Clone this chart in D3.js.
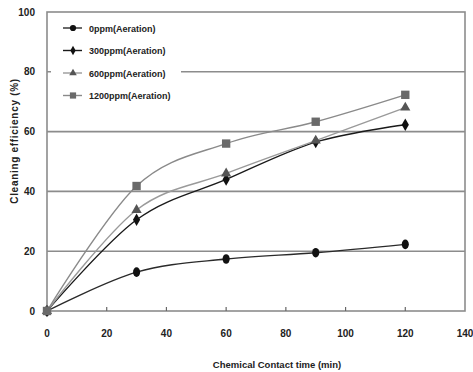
<!DOCTYPE html>
<html>
<head>
<meta charset="utf-8">
<script src="https://cdn.jsdelivr.net/npm/d3@7"></script>
<style>
  body { margin: 0; background: #fff; }
  svg { display: block; }
  text { font-family: "Liberation Sans Narrow", "Arial Narrow", "Liberation Sans", sans-serif; font-weight: bold; fill: #222; }
</style>
</head>
<body>
<svg width="473" height="372"></svg>
<script>
const times = [0, 30, 60, 90, 120];
const seriesNames = ["0ppm(Aeration)", "300ppm(Aeration)", "600ppm(Aeration)", "1200ppm(Aeration)"];
const ppm0 = [0, 13, 17.4, 19.5, 22.3];
const ppm300 = [0, 30.5, 44, 56.5, 62.3];
const ppm600 = [0, 33.8, 46, 57, 68];
const ppm1200 = [0, 41.8, 56, 63.3, 72.3];
const xTicks = [0, 20, 40, 60, 80, 100, 120, 140];
const yTicks = [0, 20, 40, 60, 80, 100];

const svg = d3.select("svg"),
  margin = { top: 12, right: 8, bottom: 61, left: 47 },
  width = +svg.attr("width") - margin.left - margin.right,
  height = +svg.attr("height") - margin.top - margin.bottom,
  x = d3.scaleLinear().domain([0, 140]).range([0, width]),
  y = d3.scaleLinear().domain([0, 100]).range([height, 0]),
  g = svg.append("g").attr("transform", `translate(${margin.left},${margin.top})`);

const series = [
  { name: seriesNames[0], values: ppm0, line: "#2a2a2a", fill: "#111", shape: "circle" },
  { name: seriesNames[1], values: ppm300, line: "#1a1a1a", fill: "#111", shape: "diamond" },
  { name: seriesNames[2], values: ppm600, line: "#9a9a9a", fill: "#555", shape: "triangle" },
  { name: seriesNames[3], values: ppm1200, line: "#8a8a8a", fill: "#6a6a6a", shape: "square" },
];

// grid lines
g.selectAll(".grid")
  .data(yTicks.filter((d) => d > 0 && d < 100))
  .enter()
  .append("line")
  .attr("x1", 0)
  .attr("x2", width)
  .attr("y1", (d) => y(d))
  .attr("y2", (d) => y(d))
  .attr("stroke", "#8c8c8c")
  .attr("stroke-width", 1.6);

// frame
g.append("rect")
  .attr("width", width)
  .attr("height", height)
  .attr("fill", "none")
  .attr("stroke", "#8c8c8c")
  .attr("stroke-width", 1.6);

// x ticks (inward) and labels
const xAxis = g.append("g").attr("transform", `translate(0,${height})`);
xAxis.selectAll("line")
  .data(xTicks.slice(1, -1))
  .enter()
  .append("line")
  .attr("x1", (d) => x(d))
  .attr("x2", (d) => x(d))
  .attr("y1", 0)
  .attr("y2", -4)
  .attr("stroke", "#666")
  .attr("stroke-width", 1.2);
xAxis.selectAll("text")
  .data(xTicks)
  .enter()
  .append("text")
  .attr("x", (d) => x(d))
  .attr("y", 26)
  .attr("text-anchor", "middle")
  .attr("font-size", 10)
  .text((d) => d);

// y labels
g.selectAll(".ylab")
  .data(yTicks)
  .enter()
  .append("text")
  .attr("x", -12)
  .attr("y", (d) => y(d) + 3.5)
  .attr("text-anchor", "end")
  .attr("font-size", 10)
  .text((d) => d);

// axis titles
svg.append("text")
  .attr("x", 277)
  .attr("y", 368)
  .attr("text-anchor", "middle")
  .attr("font-size", 9.5)
  .text("Chemical Contact time (min)");

svg.append("text")
  .attr("transform", "translate(18,141) rotate(-90)")
  .attr("text-anchor", "middle")
  .attr("font-size", 10)
  .attr("font-family", "Liberation Sans, sans-serif")
  .attr("letter-spacing", 0.7)
  .text("Cleaning efficiency (%)");

// legend background covers grid
g.append("rect")
  .attr("x", 4)
  .attr("y", 6)
  .attr("width", 130)
  .attr("height", 90)
  .attr("fill", "#fff");

const line = d3.line()
  .x((d, i) => x(times[i]))
  .y((d) => y(d))
  .curve(d3.curveCatmullRom.alpha(0));

const symbolFor = (s) =>
  s === "circle" ? d3.symbolCircle :
  s === "diamond" ? d3.symbolDiamond :
  s === "triangle" ? d3.symbolTriangle : d3.symbolSquare;

const sizeFor = (s) =>
  s === "circle" ? 55 : s === "diamond" ? 45 : s === "triangle" ? 45 : 70;

series.forEach((s) => {
  g.append("path")
    .datum(s.values)
    .attr("fill", "none")
    .attr("stroke", s.line)
    .attr("stroke-width", 1.4)
    .attr("d", line);
});

series.forEach((s) => {
  g.selectAll(null)
    .data(s.values)
    .enter()
    .append("path")
    .attr("transform", (d, i) => `translate(${x(times[i])},${y(d)})` + (s.shape === "circle" ? " scale(0.85,1.15)" : ""))
    .attr("d", d3.symbol().type(symbolFor(s.shape)).size(sizeFor(s.shape)))
    .attr("fill", s.fill);
});

// legend
const legend = g.append("g").attr("transform", "translate(16,16)");
series.forEach((s, i) => {
  const row = legend.append("g").attr("transform", `translate(0,${i * 22.5})`);
  row.append("line")
    .attr("x1", 0)
    .attr("x2", 19)
    .attr("stroke", s.line)
    .attr("stroke-width", 1.4);
  row.append("path")
    .attr("transform", "translate(10,0)")
    .attr("d", d3.symbol().type(symbolFor(s.shape)).size(sizeFor(s.shape) * 0.55))
    .attr("fill", s.fill);
  row.append("text")
    .attr("x", 26)
    .attr("y", 3.5)
    .attr("font-size", 9)
    .text(s.name);
});
</script>
</body>
</html>
